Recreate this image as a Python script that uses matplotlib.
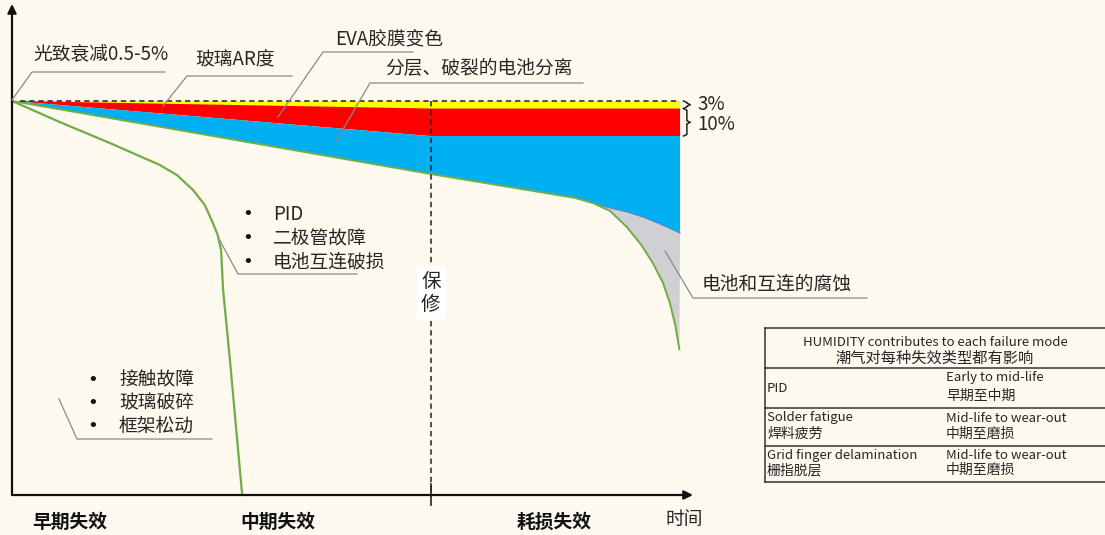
import matplotlib.pyplot as plt

plt.rcParams['font.family'] = ['Noto Sans CJK SC', 'DejaVu Sans']

# 时间（任意单位）和相对功率（%）
t_band = [0, 61.4, 98.1]
p_top = [100, 100, 100]
p_yellow = [100, 97.2, 97.2]    # 玻璃AR度下沿
p_red = [100, 87.0, 87.0]       # EVA胶膜变色下沿

# 分层、破裂后的主衰减曲线
t_main = [0, 61.4, 82.7, 85.3, 87.8, 90.3, 92.4, 94.1, 95.6, 96.6, 97.4, 98.0]
p_main = [100, 73.0, 64.1, 62.2, 59.3, 53.3, 46.7, 40.0, 32.6, 25.2, 17.0, 8.0]

# 腐蚀区上沿
t_corr = [83.7, 85.3, 87.8, 90.3, 92.7, 95.2, 98.1]
p_corr = [63.7, 62.2, 60.4, 58.9, 57.0, 54.4, 51.1]

# 早期失效曲线
t_early = [0, 7.0, 14.4, 21.7, 24.2, 26.6, 28.3, 29.5, 30.2, 30.7, 31.0, 32.0, 33.8]
p_early = [100, 92.2, 84.4, 76.3, 72.6, 67.0, 61.5, 54.8, 50.4, 44.8, 30.0, 4.1, -45.9]

# 保修期
t_warranty = 61.5

bracket_labels = ['3%', '10%']

table_head = ['HUMIDITY contributes to each failure mode', '潮气对每种失效类型都有影响']
col1_en = ['PID', 'Solder fatigue', 'Grid finger delamination']
col1_cn = ['', '焊料疲劳', '栅指脱层']
col2_en = ['Early to mid-life', 'Mid-life to wear-out', 'Mid-life to wear-out']
col2_cn = ['早期至中期', '中期至磨损', '中期至磨损']

stage_labels = ['早期失效', '中期失效', '耗损失效']

bg = '#fdf9ef'
txt = '#262626'
gray_line = '#8a8a8a'

fig = plt.figure(figsize=(11.05, 5.35), dpi=100, facecolor=bg)

# 数据坐标区
ax = fig.add_axes([12 / 1105, 40 / 535, 681 / 1105, 491 / 535])
ax.set_xlim(0, 100)
ax.set_ylim(-45.9, 135.9)
ax.set_facecolor('none')
ax.axis('off')

# 黄 / 红 / 蓝 / 灰 四个区域
ax.fill(t_band + t_band[::-1], p_top + p_yellow[::-1], color='#ffff00', lw=0)
ax.fill(t_band + t_band[::-1], p_yellow + p_red[::-1], color='#ff0000', lw=0)
t_low = t_main[:3] + t_corr
p_low = p_main[:3] + p_corr
ax.fill(t_band + t_low[::-1], p_red + p_low[::-1], color='#00b0f0', lw=0)
tail = [(t, p) for t, p in zip(t_main, p_main) if t >= t_corr[0]][::-1]
ax.fill(t_corr + [a for a, b in tail], p_corr + [b for a, b in tail],
        color='#d0cfd3', lw=0)
ax.plot(t_corr, p_corr, color='#5b7fc8', lw=0.8)

# 绿色衰减曲线
ax.plot(t_main, p_main, color='#70ad47', lw=1.4)
ax.plot(t_early, p_early, color='#70ad47', lw=1.6, clip_on=False)

# 100%虚线和保修线
ax.plot([1.2, t_band[-1]], [100, 100], color='#222222', lw=1.1, ls=(0, (3.5, 2.5)))
ax.plot([t_warranty, t_warranty], [100, -45.9], color='#222222', lw=1.1,
        ls=(0, (3.5, 2.5)))
ax.plot([t_warranty, t_warranty], [-42, -49.5], color='#222222', lw=1.2, clip_on=False)
ax.text(t_warranty, 29, '保\n修', ha='center', va='center', fontsize=14, color=txt,
        linespacing=1.15, bbox=dict(facecolor='white', edgecolor='none', pad=3))

# 坐标轴箭头
arrow = dict(arrowstyle='-|>', color='#111111', lw=1.6, mutation_scale=13,
             shrinkA=0, shrinkB=0)
ax.annotate('', xy=(1, 0), xytext=(0, 0), xycoords='axes fraction', arrowprops=arrow)
ax.annotate('', xy=(0, 1), xytext=(0, 0), xycoords='axes fraction', arrowprops=arrow)


# 右侧大括号
def brace(x0, y_hi, y_lo, w=1.0):
    mid = (y_hi + y_lo) / 2
    k = 0.6
    xs = [x0, x0 + w / 2, x0 + w / 2, x0 + w, x0 + w / 2, x0 + w / 2, x0]
    ys = [y_hi, y_hi - k, mid + k, mid, mid - k, y_lo + k, y_lo]
    ax.plot(xs, ys, color='#222222', lw=1.1, clip_on=False)
    return mid


m1 = brace(98.6, p_top[-1], p_yellow[-1])
m2 = brace(98.6, p_yellow[-1], p_red[-1])
ax.text(100.6, m1, bracket_labels[0], va='center', fontsize=13.5, color=txt, clip_on=False)
ax.text(100.6, m2 - 1, bracket_labels[1], va='center', fontsize=13.5, color=txt,
        clip_on=False)

# 文字标注层（像素坐标）
ov = fig.add_axes([0, 0, 1, 1], facecolor='none')
ov.set_xlim(0, 1105)
ov.set_ylim(535, 0)
ov.axis('off')

callouts = [
    ('光致衰减0.5-5%', (33, 55), (32, 165, 72), (12, 100)),
    ('玻璃AR度', (195, 60), (187, 292, 76), (163, 106)),
    ('EVA胶膜变色', (335, 39), (323, 413, 52), (278, 117)),
    ('分层、破裂的电池分离', (385, 68), (370, 583, 83), (335, 143)),
    ('电池和互连的腐蚀', (702, 284), (693, 867, 298), (665, 251)),
]
for label, (tx, ty), (ux0, ux1, uy), (ex, ey) in callouts:
    ov.text(tx, ty, label, fontsize=13.5, color=txt, va='center')
    ov.plot([ex, ux0, ux1], [ey, uy, uy], color=gray_line, lw=0.9)

# 项目列表
lists = [
    (['PID', '二极管故障', '电池互连破损'], 248, 273, [214, 238, 262],
     (238, 357, 274), (218, 237)),
    (['接触故障', '玻璃破碎', '框架松动'], 93, 119, [380, 403, 426],
     (77, 212, 439), (59, 399)),
]
for items, bx, tx, ys, (ux0, ux1, uy), (ex, ey) in lists:
    for s, y in zip(items, ys):
        ov.text(bx, y, '•', fontsize=13, family='DejaVu Sans', color='#111111',
                ha='center', va='center')
        ov.text(tx, y, s, fontsize=13.5, color=txt, va='center')
    ov.plot([ex, ux0, ux1], [ey, uy, uy], color=gray_line, lw=0.9)

# 底部阶段标签
for s, x in zip(stage_labels, [32, 240, 517]):
    ov.text(x, 522, s, fontsize=13.5, fontweight='bold', color='#111111', va='center')
ov.text(665, 520, '时间', fontsize=13.5, color=txt, va='center')

# 潮气影响表格
left, right = 765, 1105
rows_y = [328, 368, 408, 445.5, 482]
for y in rows_y:
    ov.plot([left, right], [y, y], color='#333333', lw=1.1)
ov.plot([left, left], [rows_y[0], rows_y[-1]], color='#333333', lw=1.1)
ov.text((left + right) / 2, 342, table_head[0], fontsize=9.5, color=txt,
        ha='center', va='center')
ov.text((left + right) / 2, 358, table_head[1], fontsize=11, color=txt,
        ha='center', va='center')
for i, (y0, y1) in enumerate(zip(rows_y[1:-1], rows_y[2:])):
    y_en = y0 + 10
    y_cn = y1 - 12
    if col1_cn[i]:
        ov.text(767, y_en, col1_en[i], fontsize=9.5, color=txt, va='center')
        ov.text(767, y_cn, col1_cn[i], fontsize=10, color=txt, va='center')
    else:
        ov.text(767, (y0 + y1) / 2, col1_en[i], fontsize=9.5, color=txt, va='center')
    ov.text(946, y_en, col2_en[i], fontsize=9.5, color=txt, va='center')
    ov.text(946, y_cn, col2_cn[i], fontsize=10, color=txt, va='center')

fig.savefig('out.png', dpi=100, facecolor=bg)
